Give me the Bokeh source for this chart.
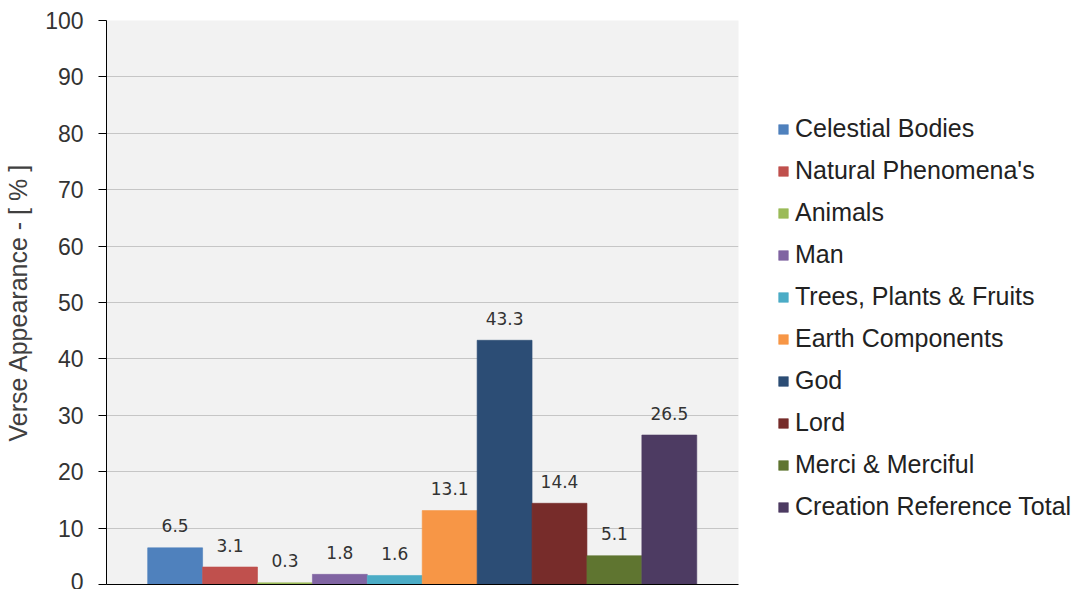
from bokeh.plotting import figure
from bokeh.models import ColumnDataSource, Range1d, Legend, LegendItem, FixedTicker
from bokeh.core.properties import value
from bokeh.embed import file_html
from bokeh.resources import INLINE

categories = ["Celestial Bodies", "Natural Phenomena's", "Animals", "Man",
              "Trees, Plants & Fruits", "Earth Components", "God", "Lord",
              "Merci & Merciful", "Creation Reference Total"]
values = [6.5, 3.1, 0.3, 1.8, 1.6, 13.1, 43.3, 14.4, 5.1, 26.5]
colors = ["#4F81BD", "#C0504D", "#9BBB59", "#8064A2", "#4BACC6",
          "#F79646", "#2C4D75", "#772C2A", "#5F7530", "#4D3B62"]
y_ticks = [0, 10, 20, 30, 40, 50, 60, 70, 80, 90, 100]

xs = [i + 0.5 for i in range(len(values))]
src = ColumnDataSource(dict(x=xs, top=values, color=colors, cat=categories,
                            lab=["%.1f" % v for v in values]))

p = figure(frame_width=632, frame_height=564, output_backend="svg",
           toolbar_location=None, x_range=Range1d(-0.75, 10.76),
           y_range=Range1d(0, 100), min_border_left=106, min_border_top=20,
           min_border_bottom=5, min_border_right=345)
p.background_fill_color = "#f2f2f2"
p.border_fill_color = "white"
p.outline_line_color = None

r = p.vbar(x="x", top="top", width=1.0, fill_color="color", line_color="color",
           line_alpha=0.6, source=src)
p.text(x="x", y="top", text="lab", source=src, text_align="center",
       text_baseline="alphabetic", y_offset=-22, text_font=value("DejaVu Sans"),
       text_font_size="17px", text_color="#333333")

p.xgrid.grid_line_color = None
p.ygrid.grid_line_color = "#c6c6c6"
p.ygrid.grid_line_width = 1
p.ygrid.ticker = FixedTicker(ticks=y_ticks)

ya = p.yaxis[0]
ya.ticker = FixedTicker(ticks=y_ticks)
ya.axis_line_color = "black"
ya.major_tick_line_color = "black"
ya.major_tick_out = 8
ya.major_tick_in = 0
ya.minor_tick_line_color = None
ya.major_label_text_font = "Liberation Sans"
ya.major_label_text_font_size = "23px"
ya.major_label_text_color = "#333333"
ya.major_label_standoff = 15
ya.axis_label = "Verse Appearance - [ % ]"
ya.axis_label_text_font = "Liberation Sans"
ya.axis_label_text_font_size = "25px"
ya.axis_label_text_font_style = "normal"
ya.axis_label_text_color = "#404040"
ya.axis_label_standoff = 10

xa = p.xaxis[0]
xa.ticker = FixedTicker(ticks=[])
xa.axis_line_color = "black"
xa.major_tick_line_color = None
xa.minor_tick_line_color = None
xa.major_label_text_font_size = "0px"

items = [LegendItem(label=c, renderers=[r], index=i) for i, c in enumerate(categories)]
leg = Legend(items=items, location=(39, 63), orientation="vertical")
leg.glyph_width = 12
leg.glyph_height = 12
leg.label_text_font = "Liberation Sans"
leg.label_text_font_size = "25px"
leg.label_text_color = "#222222"
leg.label_height = 24
leg.spacing = 13
leg.label_standoff = 6
leg.padding = 0
leg.margin = 0
leg.border_line_color = None
leg.background_fill_alpha = 0
p.add_layout(leg, "right")

open("out.html", "w").write(file_html(p, INLINE))
